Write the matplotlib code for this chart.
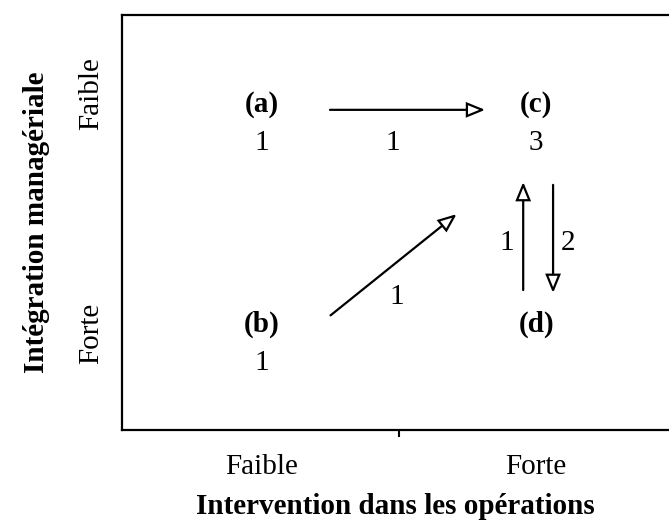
import matplotlib
matplotlib.use("Agg")
import matplotlib.pyplot as plt
from matplotlib.patches import FancyArrowPatch

# ---- data ----
x_categories = ["Faible", "Forte"]          # Intervention dans les opérations
y_categories = ["Forte", "Faible"]          # Intégration managériale (bottom -> top)
node_names = ["(a)", "(b)", "(c)", "(d)"]
node_x = [0, 0, 1, 1]                        # index in x_categories
node_y = [1, 0, 1, 0]                        # index in y_categories
node_counts = ["1", "1", "3", ""]
arrow_from = ["(a)", "(b)", "(d)", "(c)"]
arrow_to = ["(c)", "(c)", "(c)", "(d)"]
arrow_labels = ["1", "1", "1", "2"]
x_title = "Intervention dans les opérations"
y_title = "Intégration managériale"

plt.rcParams['font.family'] = ['Liberation Serif', 'DejaVu Serif']
FS = 21

fig = plt.figure(figsize=(6.69, 5.24), dpi=100)
ax = fig.add_axes([122/669, 94/524, 547/669, 415/524])
ax.set_xlim(-0.511, 1.485)
ax.set_ylim(-0.391, 1.495)
for s in ["top", "left", "bottom"]:
    ax.spines[s].set_linewidth(1.6)
ax.spines["right"].set_visible(False)

ax.set_xticks(range(len(x_categories)), x_categories, fontsize=FS)
ax.set_yticks([0.05, 1.14], y_categories, fontsize=FS, rotation=90, va="center")
ax.tick_params(axis="both", length=0)
ax.tick_params(axis="x", pad=17)
ax.tick_params(axis="y", pad=13)
ax.set_xticks([0.5], minor=True)
ax.tick_params(axis="x", which="minor", length=5, width=1.5, direction="out", pad=0)

ax.set_xlabel(x_title, fontsize=FS, fontweight="bold")
ax.set_ylabel(y_title, fontsize=FS, fontweight="bold", labelpad=20)
ax.xaxis.set_label_coords(0.5, -(493 - 430) / 415)

pos = {n: (x, y) for n, x, y in zip(node_names, node_x, node_y)}
for n, cnt in zip(node_names, node_counts):
    x, y = pos[n]
    ax.text(x, y + 0.09, n, ha="center", va="center", fontsize=FS, fontweight="bold")
    if cnt:
        ax.text(x, y - 0.085, cnt, ha="center", va="center", fontsize=FS)

# geometry per arrow: start/end fraction along the link, offset (dx, dy), label position
geom = [
    (0.248, 0.814, (0.0, 0.064), (0.478, 0.914)),
    (0.25, 0.71, (0.0, -0.12), (0.493, 0.214)),
    (0.245, 0.736, (-0.047, 0.0), (0.894, 0.459)),
    (0.277, 0.768, (0.062, 0.0), (1.117, 0.459)),
]
for src, dst, lab, (t0, t1, (dx, dy), lpos) in zip(arrow_from, arrow_to, arrow_labels, geom):
    x0, y0 = pos[src]
    x1, y1 = pos[dst]
    p0 = (x0 + (x1 - x0) * t0 + dx, y0 + (y1 - y0) * t0 + dy)
    p1 = (x0 + (x1 - x0) * t1 + dx, y0 + (y1 - y0) * t1 + dy)
    arr = FancyArrowPatch(p0, p1, arrowstyle="-|>,head_length=11,head_width=4.5",
                          mutation_scale=1, shrinkA=0, shrinkB=0,
                          lw=1.6, ec="black", fc="white", joinstyle="miter")
    ax.add_patch(arr)
    ax.text(lpos[0], lpos[1], lab, ha="center", va="center", fontsize=FS)

fig.savefig("out.png", dpi=100)
